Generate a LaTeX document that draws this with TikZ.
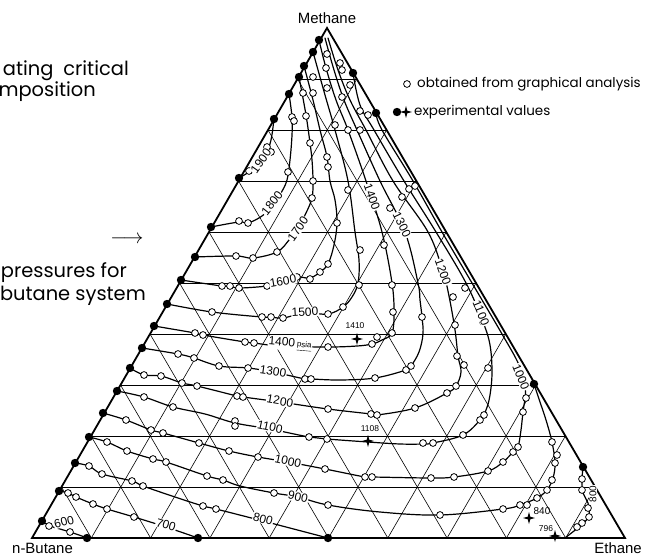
\documentclass[tikz,border=0pt]{standalone}
\usepackage{fontspec}
\setmainfont{Liberation Sans}
\newfontfamily\capfont{Poppins}
\newcommand\isocircs[1]{\foreach \a/\b in {#1} {\filldraw[opn] (\a,\b) circle (3.4bp);}}
\newcommand\isodots[1]{\foreach \a/\b in {#1} {\fill (\a,\b) circle (4.2bp);}}
\begin{document}
\begin{tikzpicture}[x=1bp,y=-1bp,
  tri/.style={line width=1.8bp, line join=miter},
  hgrid/.style={line width=0.9bp},
  dgrid/.style={line width=0.6bp},
  iso/.style={line width=1.2bp, line join=round, line cap=round},
  opn/.style={draw, fill=white, line width=0.8bp},
  lab/.style={font=\fontsize{12}{12}\selectfont, inner sep=0.6bp, fill=white},
  slab/.style={font=\fontsize{8.5}{8.5}\selectfont, inner sep=0.5bp},
  captxt/.style={font=\capfont\fontsize{19.5}{19.5}\selectfont, inner sep=0pt, anchor=base east},
  leg/.style={font=\capfont\fontsize{13.5}{13.5}\selectfont, inner sep=0pt, anchor=base west},
  vert/.style={font=\fontsize{15}{15}\selectfont, inner sep=0pt}
]
\fill[white] (0,0) rectangle (648,558);
\useasboundingbox (0,0) rectangle (648,558);

% grid
\foreach \k in {1,...,9} {
  \draw[hgrid] ({32+29.5*\k},{538-51*\k}) -- ({625-29.8*\k},{538-51*\k});
  \draw[dgrid] ({32+59.3*\k},538) -- ({327+29.8*\k},{28+51*\k});
  \draw[dgrid] ({625-59.3*\k},538) -- ({327-29.5*\k},{28+51*\k});
}
% triangle
\coordinate (M) at (327,28);
\coordinate (B) at (32,538);
\coordinate (E) at (625,538);
\draw[tri] (M) -- (B) -- (E) -- cycle;

% isobars
\draw[iso] plot[smooth,tension=0.6] coordinates {(42,521) (50,526) (60,529) (70,532) (79,535) (87,538)};
\draw[iso] plot[smooth,tension=0.6] coordinates {(59,491) (68,493) (76,497) (93,504) (107,509) (134,517) (166,527) (198,538)};
\draw[iso] plot[smooth,tension=0.6] coordinates {(75,463) (89,466) (102,474) (132,481) (143,486) (175,497) (203,506) (216,509) (263,521) (328,538)};
\draw[iso] plot[smooth,tension=0.6] coordinates {(583,467) (582,480) (583,493) (588,503) (589,515) (583,524) (574,531) (565,538)};
\draw[iso] plot[smooth,tension=0.6] coordinates {(89,437) (107,442) (127,451) (153,459) (166,462) (207,476) (223,480) (240,486) (274,493) (298,497) (328,505) (380,512) (440,515) (503,509) (520,505) (537,498) (547,490) (553,478) (555,463) (552,442) (546,420) (540,402) (534,384)};
\draw[iso] plot[smooth,tension=0.6] coordinates {(103,413) (126,420) (151,430) (163,433) (199,443) (229,451) (258,457) (288,462) (325,469) (365,477) (372,477) (431,478) (454,477) (488,471) (503,462) (513,452) (518,447) (521,430) (523,412) (525,398) (525,388) (519,365) (502,334) (472,283) (442,232) (413,181) (382,130) (376,113)};
\draw[iso] plot[smooth,tension=0.6] coordinates {(117,391) (144,397) (173,407) (205,414) (235,423) (270,429) (309,437) (327,439) (368,442) (400,444) (423,444) (433,443) (463,435) (480,420) (486,410) (490,395) (492,372) (490,345) (483,322) (466,283) (436,232) (404,181) (374,130) (360,105) (353,73)};
\draw[iso] plot[smooth,tension=0.6] coordinates {(130,368) (144,375) (161,376) (182,383) (197,386) (237,396) (243,397) (280,402) (328,409) (371,414) (377,415) (415,408) (447,393) (456,386) (461,372) (458,356) (455,330) (449,296) (443,272) (428,232) (393,181) (366,130) (350,100) (338,70) (328,38)};
\draw[iso] plot[smooth,tension=0.6] coordinates {(142,348) (178,354) (194,358) (219,366) (248,368) (273,372) (305,379) (311,379) (340,380) (375,378) (406,370) (411,366) (419,352) (423,334) (422,317) (420,300) (418,283) (405,232) (380,181) (357,130) (344,100) (334,70) (325,38)};
\draw[iso] plot[smooth,tension=0.6] coordinates {(154,326) (195,333) (203,335) (245,342) (254,343) (280,346) (328,347) (357,346) (372,344) (382,340) (392,333) (394,312) (392,283) (382,232) (366,181) (348,130) (336,100) (326,68) (319,40)};
\draw[iso] plot[smooth,tension=0.6] coordinates {(167,304) (212,312) (262,317) (271,317) (283,318) (305,313) (328,314) (343,307) (352,297) (358,283) (359,260) (355,232) (348,181) (335,130) (325,95) (313,52)};
\draw[iso] plot[smooth,tension=0.6] coordinates {(181,280) (222,286) (230,286) (239,288) (267,286) (283,282) (297,277) (310,278) (320,272) (328,264) (334,245) (337,223) (335,200) (330,181) (327,157) (320,130) (313,100) (304,66)};
\draw[iso] plot[smooth,tension=0.6] coordinates {(195,257) (236,256) (253,258) (277,252) (289,240) (298,228) (306,213) (312,198) (313,181) (312,160) (310,143) (306,115) (299,77)};
\draw[iso] plot[smooth,tension=0.6] coordinates {(211,227) (239,222) (248,223) (262,216) (273,205) (281,193) (287,180) (290,160) (292,135) (292,117) (289,94)};
\draw[iso] plot[smooth,tension=0.6] coordinates {(239,178) (249,172) (258,165) (266,154) (271,140) (274,119)};

% open circles
\isocircs{49/526, 70/532}
\isocircs{68/493, 76/497, 93/504, 107/509, 134/517}
\isocircs{89/466, 102/474, 132/481, 143/486, 203/506, 216/509}
\isocircs{582/479, 582/490, 588/508, 589/517, 582/523, 577/527}
\isocircs{107/442, 127/451, 153/459, 166/462, 207/476, 223/480, 274/493, 328/505, 440/515, 503/509, 520/505, 527/505, 537/498, 547/490, 552/480, 555/463, 557/455, 552/442}
\isocircs{126/420, 151/430, 163/433, 199/443, 229/451, 258/457, 325/469, 365/477, 372/477, 431/478, 454/477, 488/471, 503/462, 513/452, 518/447, 523/412, 526/398, 415/186}
\isocircs{144/397, 173/407, 235/421, 235/426, 309/437, 327/439, 423/443, 433/443, 463/435, 480/420, 484/415, 488/368, 483/322, 465/288, 409/189, 368/115, 360/111}
\isocircs{144/375, 161/376, 182/383, 197/386, 237/396, 243/397, 328/409, 371/414, 377/415, 415/408, 447/393, 456/386, 464/365, 457/356, 455/325, 453/297, 402/197, 350/85, 342/70}
\isocircs{178/354, 194/358, 219/366, 248/368, 305/379, 311/379, 375/378, 406/370, 411/366, 422/317, 390/208, 360/130, 340/63}
\isocircs{195/333, 203/335, 245/342, 254/343, 328/347, 372/344, 377/337, 392/333, 393/312, 392/285, 384/245, 348/130, 342/97, 327/54}
\isocircs{212/312, 262/317, 271/317, 283/318, 328/314, 343/307, 359/285, 360/250, 348/190, 335/125, 327/88, 326/68}
\isocircs{222/286, 230/286, 239/288, 267/286, 297/277, 310/279, 320/272, 328/264, 337/223, 328/167, 327/157, 313/93, 313/77}
\isocircs{236/256, 253/258, 277/252, 312/198, 313/181, 310/143, 306/116, 303/93}
\isocircs{239/221, 248/223, 288/172, 292/117, 294/121}
\isocircs{249/171, 267/147, 271/152}

% experimental dots
\isodots{42/521, 59/491, 75/463, 89/437, 103/413, 117/391, 130/368, 142/348, 154/326, 167/304, 181/280, 195/257, 211/227, 239/178, 274/119, 289/94, 299/77, 304/66, 313/52, 319/40}
\isodots{87/538, 198/538, 328/538}
\isodots{353/73, 376/113, 534/384, 583/467}

% stars
\foreach \x/\y in {357/339, 368/441, 529/518, 555/536, 406/112}
  \fill (\x,\y) +(0,-6) -- +(1.3,-1.3) -- +(6,0) -- +(1.3,1.3) -- +(0,6) -- +(-1.3,1.3) -- +(-6,0) -- +(-1.3,-1.3) -- cycle;

% isobar labels
\node[lab, rotate=15] (l600) at (64,522) {600};
\node[lab, rotate=-17] (l700) at (166,525) {700};
\node[lab, rotate=-15] (l800) at (263,519) {800};
\node[lab, rotate=-12] (l900) at (298,497) {900};
\node[lab, rotate=-12] (l1000) at (288,461) {1000};
\node[lab, rotate=-12] (l1100) at (270,427) {1100};
\node[lab, rotate=-10] (l1200) at (280,401) {1200};
\node[lab, rotate=-8] (l1300) at (273,371) {1300};
\node[lab, rotate=-5] (l1400) at (290,344) {1400\,{\fontsize{8}{8}\selectfont\underline{psia}}};
\node[lab, rotate=3] (l1500) at (305,312) {1500};
\node[lab, rotate=10] (l1600) at (283,281) {1600};
\node[lab, rotate=55] (l1700) at (298,229) {1700};
\node[lab, rotate=52] (l1800) at (272,203) {1800};
\node[lab, rotate=55] (l1900) at (261,161) {1900};
\node[lab, rotate=-70] (u1400) at (372,197) {1400};
\node[lab, rotate=-64] (u1300) at (402,225) {1300};
\node[lab, rotate=-70] (u1200) at (443,272) {1200};
\node[lab, rotate=-68] (u1100) at (481,313) {1100};
\node[lab, rotate=-68] (u1000) at (521,377) {1000};
\node[lab, rotate=90, font=\fontsize{10}{10}\selectfont] (u800) at (593,494) {800};
\node[slab] (s1410) at (355,326) {1410};
\node[slab] (s1108) at (370,429) {1108};
\node[slab, font=\fontsize{10}{10}\selectfont] (s840) at (542,511) {840};
\node[slab] (s796) at (546,529) {796};

% vertex labels
\node[vert] (tM) at (327,18) {Methane};
\node[vert, anchor=west] (tB) at (12,548) {n-Butane};
\node[vert, anchor=east] (tE) at (642,548) {Ethane};

% legend
\filldraw[opn] (407,84) circle (3.4bp);
\fill (397,112) circle (4.2bp);
\node[leg] (g1) at (417,88) {obtained from graphical analysis};
\node[leg] (g2) at (414,116) {experimental values};

% caption fragments
\node[captxt] (c1) at (129,76) {ating\hspace{10bp}critical};
\node[captxt] (c2) at (96,97) {mposition};
\node[captxt] (c3) at (127,277) {pressures for};
\node[captxt] (c4) at (146,300) {butane system};
\node[font=\fontsize{21}{21}\selectfont, inner sep=0pt] (arr) at (127,240) {$\longrightarrow$};
\end{tikzpicture}
\end{document}
